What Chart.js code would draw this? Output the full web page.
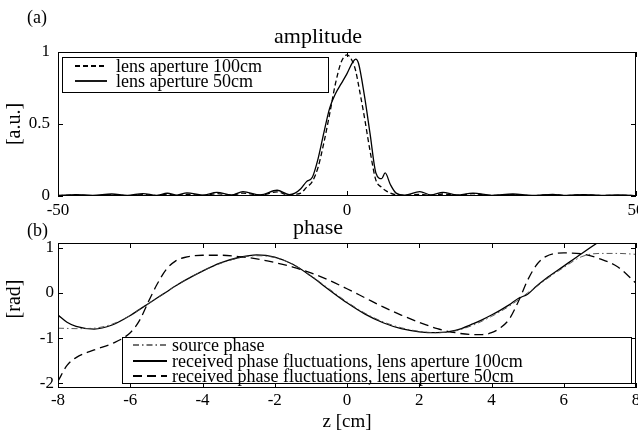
<!DOCTYPE html>
<html lang="en">
<head>
<meta charset="UTF-8" />
<title>Amplitude and phase</title>
<script src="https://cdn.jsdelivr.net/npm/chart.js"></script>
<style>
  html, body { margin: 0; padding: 0; background: #fff; }
  body { width: 638px; height: 434px; position: relative; overflow: hidden; }
  canvas { position: absolute; left: 0; }
  #ampChart { top: 0; }
  #phaseChart { top: 215px; }
</style>
</head>
<body>
<canvas id="ampChart" width="638" height="222"></canvas>
<canvas id="phaseChart" width="638" height="219"></canvas>
<script>
// (a) amplitude, z in cm
const ampZ = [-50, -47, -44, -40.7, -38, -35.3, -33, -31.1, -29.4, -27.7,
  -25, -22.5, -20, -18, -15, -12.1, -10, -9, -8, -7,
  -6, -5, -4, -3, -2, -1, 0, 1, 1.5, 2,
  3, 4, 5, 6, 6.6, 7.5, 8.5, 10, 12.6, 14.5,
  16.6, 19, 21.8, 25, 28.7, 32, 35.6, 38, 40.8, 44,
  47, 50];
const amp100 = [0.002, 0.006, 0.002, 0.008, 0.002, 0.01, 0.003, 0.013, 0.004, 0.012,
  0.004, 0.016, 0.005, 0.02, 0.006, 0.028, 0.006, 0.012, 0.02, 0.06,
  0.10, 0.20, 0.37, 0.57, 0.78, 0.93, 0.98, 0.93, 0.87, 0.77,
  0.55, 0.31, 0.11, 0.06, 0.04, 0.02, 0.008, 0.004, 0.012, 0.004,
  0.014, 0.004, 0.016, 0.004, 0.01, 0.003, 0.009, 0.003, 0.008, 0.003,
  0.005, 0.002];
const amp50 = [0.004, 0.01, 0.004, 0.014, 0.004, 0.017, 0.005, 0.019, 0.006, 0.022,
  0.006, 0.025, 0.007, 0.03, 0.008, 0.04, 0.01, 0.02, 0.05, 0.10,
  0.13, 0.26, 0.44, 0.61, 0.71, 0.78, 0.85, 0.93, 0.95, 0.92,
  0.70, 0.43, 0.16, 0.12, 0.16, 0.08, 0.02, 0.006, 0.03, 0.008,
  0.025, 0.007, 0.02, 0.005, 0.014, 0.004, 0.011, 0.004, 0.01, 0.004,
  0.007, 0.003];
const ampXTicks = [-50, 0, 50];
const ampYTicks = [0, 0.5, 1];

// (b) phase, rad
const phaseZ = [-8, -7.75, -7.5, -7, -6.5, -6, -5.75, -5.5, -5.25, -5,
  -4.75, -4.5, -4, -3.5, -3, -2.5, -2, -1.5, -1, -0.5,
  0, 0.5, 1, 1.5, 2, 2.5, 3, 3.5, 3.75, 4,
  4.25, 4.5, 4.75, 5, 5.25, 5.5, 6, 6.5, 7, 7.5, 8];
const phaseSource = [-0.78, -0.785, -0.79, -0.78, -0.69, -0.50, -0.37, -0.24, -0.11, 0.02,
  0.15, 0.27, 0.48, 0.65, 0.77, 0.82, 0.78, 0.63, 0.38, 0.09,
  -0.20, -0.45, -0.64, -0.77, -0.85, -0.88, -0.84, -0.71, -0.62, -0.52,
  -0.41, -0.29, -0.15, 0.0, 0.14, 0.29, 0.56, 0.80, 0.87, 0.87, 0.85];
const phase100 = [-0.49, -0.65, -0.74, -0.80, -0.71, -0.50, -0.37, -0.24, -0.11, 0.02,
  0.15, 0.27, 0.48, 0.66, 0.78, 0.84, 0.79, 0.63, 0.37, 0.07,
  -0.22, -0.47, -0.66, -0.79, -0.86, -0.88, -0.83, -0.68, -0.59, -0.49,
  -0.38, -0.26, -0.12, -0.03, 0.15, 0.31, 0.59, 0.87, 1.14, 1.4, 1.65];
const phase50 = [-1.95, -1.6, -1.43, -1.26, -1.12, -0.88, -0.62, -0.2, 0.2, 0.52,
  0.70, 0.78, 0.83, 0.83, 0.80, 0.75, 0.67, 0.57, 0.44, 0.28,
  0.09, -0.11, -0.31, -0.49, -0.65, -0.79, -0.88, -0.92, -0.92, -0.88,
  -0.77, -0.57, -0.18, 0.28, 0.62, 0.80, 0.88, 0.86, 0.75, 0.57, 0.21];
const phaseXTicks = [-8, -6, -4, -2, 0, 2, 4, 6, 8];
const phaseYTicks = [-2, -1, 0, 1];

const FONT = "'Liberation Serif', 'Times New Roman', serif";
Chart.defaults.font.family = FONT;
Chart.defaults.color = "#000";

const toPoints = (xs, ys) => xs.map((x, i) => ({ x, y: ys[i] }));

// box, inward ticks, legend and the side texts
const framePlugin = {
  id: "frame",
  afterDatasetsDraw(chart, args, opts) {
    const { ctx, chartArea: a, scales } = chart;
    ctx.save();
    ctx.strokeStyle = "#000";
    ctx.lineWidth = 1;
    ctx.setLineDash([]);
    ctx.strokeRect(a.left + 0.5, a.top + 0.5, a.width - 1, a.height - 1);
    ctx.beginPath();
    scales.x.ticks.forEach((t) => {
      const px = Math.round(scales.x.getPixelForValue(t.value)) + 0.5;
      ctx.moveTo(px, a.bottom);
      ctx.lineTo(px, a.bottom - 5);
      ctx.moveTo(px, a.top);
      ctx.lineTo(px, a.top + 5);
    });
    scales.y.ticks.forEach((t) => {
      const py = Math.round(scales.y.getPixelForValue(t.value)) + 0.5;
      ctx.moveTo(a.left, py);
      ctx.lineTo(a.left + 5, py);
      ctx.moveTo(a.right, py);
      ctx.lineTo(a.right - 5, py);
    });
    ctx.stroke();

    // legend
    const [bx, by, bw, bh] = opts.box;
    ctx.fillStyle = "#fff";
    ctx.fillRect(bx, by, bw, bh);
    ctx.strokeRect(bx + 0.5, by + 0.5, bw, bh);
    ctx.font = opts.legendSize + "px " + FONT;
    ctx.textBaseline = "middle";
    ctx.textAlign = "left";
    opts.order.forEach((di, row) => {
      const ds = chart.data.datasets[di];
      const y = opts.rowY[row];
      ctx.beginPath();
      ctx.strokeStyle = ds.borderColor;
      ctx.lineWidth = ds.borderWidth + 0.5;
      ctx.setLineDash(ds.borderDash || []);
      ctx.moveTo(opts.lineX[0], y);
      ctx.lineTo(opts.lineX[1], y);
      ctx.stroke();
      ctx.fillStyle = "#000";
      ctx.fillText(ds.label, opts.textX, y + 1);
    });

    // panel letter and y label
    ctx.setLineDash([]);
    ctx.font = "18px " + FONT;
    ctx.fillText(opts.letter, opts.letterPos[0], opts.letterPos[1]);
    ctx.translate(opts.yLabelPos[0], opts.yLabelPos[1]);
    ctx.rotate(-Math.PI / 2);
    ctx.textAlign = "center";
    ctx.font = "20px " + FONT;
    ctx.fillText(opts.yLabel, 0, 0);
    ctx.restore();
  },
};

const lineDefaults = {
  pointRadius: 0,
  fill: false,
  borderColor: "#000",
  cubicInterpolationMode: "monotone",
};

const axisBase = (ticks, padding) => ({
  type: "linear",
  grid: { display: false, drawTicks: false },
  border: { display: false },
  ticks: {
    font: { size: 17 },
    padding,
    autoSkip: false,
    maxRotation: 0,
    callback: (v) => String(v),
  },
  afterBuildTicks: (s) => {
    s.ticks = ticks.map((v) => ({ value: v }));
  },
});

new Chart(document.getElementById("ampChart"), {
  type: "line",
  data: {
    datasets: [
      { ...lineDefaults, label: "lens aperture 100cm", data: toPoints(ampZ, amp100), borderWidth: 1.3, borderDash: [5, 3] },
      { ...lineDefaults, label: "lens aperture 50cm", data: toPoints(ampZ, amp50), borderWidth: 1.3 },
    ],
  },
  options: {
    responsive: false,
    animation: false,
    layout: { padding: { top: 26, right: 2, left: 0, bottom: 0 } },
    plugins: {
      legend: { display: false },
      tooltip: { enabled: false },
      title: {
        display: true,
        text: "amplitude",
        font: { size: 22, weight: "normal", lineHeight: 1 },
        padding: { top: 0, bottom: 4 },
      },
      frame: {
        box: [62, 57, 266, 35],
        rowY: [66, 81],
        lineX: [75, 107],
        textX: 116,
        legendSize: 18,
        order: [0, 1],
        letter: "(a)",
        letterPos: [27, 18],
        yLabel: "[a.u.]",
        yLabelPos: [15, 124],
      },
    },
    scales: {
      x: {
        ...axisBase(ampXTicks, 4),
        min: -50,
        max: 50,
        afterFit: (s) => { s.height = 26; s.paddingLeft = 0; s.paddingRight = 0; },
      },
      y: {
        ...axisBase(ampYTicks, 8),
        min: 0,
        max: 1,
        afterFit: (s) => { s.width = 58; s.paddingTop = 0; s.paddingBottom = 0; },
      },
    },
  },
  plugins: [framePlugin],
});

new Chart(document.getElementById("phaseChart"), {
  type: "line",
  data: {
    datasets: [
      { ...lineDefaults, label: "source phase", data: toPoints(phaseZ, phaseSource), borderWidth: 0.9, borderColor: "#444", borderDash: [6, 3, 1.5, 3] },
      { ...lineDefaults, label: "received phase fluctuations, lens aperture 100cm", data: toPoints(phaseZ, phase100), borderWidth: 1.3 },
      { ...lineDefaults, label: "received phase fluctuations, lens aperture 50cm", data: toPoints(phaseZ, phase50), borderWidth: 1.3, borderDash: [9, 5] },
    ],
  },
  options: {
    responsive: false,
    animation: false,
    layout: { padding: { top: 2, right: 2, left: 0, bottom: 0 } },
    plugins: {
      legend: { display: false },
      tooltip: { enabled: false },
      title: {
        display: true,
        text: "phase",
        font: { size: 22, weight: "normal", lineHeight: 1 },
        padding: { top: 0, bottom: 4 },
      },
      frame: {
        box: [122, 122, 509, 46],
        rowY: [130, 146, 161],
        lineX: [133, 167],
        textX: 172,
        legendSize: 18,
        order: [0, 1, 2],
        letter: "(b)",
        letterPos: [27, 16],
        yLabel: "[rad]",
        yLabelPos: [15, 84],
      },
    },
    scales: {
      x: {
        ...axisBase(phaseXTicks, 2),
        min: -8,
        max: 8,
        title: {
          display: true,
          text: "z [cm]",
          font: { size: 19 },
          padding: { top: 0, bottom: 1 },
        },
        afterFit: (s) => { s.height = 46; s.paddingLeft = 0; s.paddingRight = 0; },
      },
      y: {
        ...axisBase(phaseYTicks, 4),
        min: -2.1,
        max: 1.1,
        afterFit: (s) => { s.width = 58; s.paddingTop = 0; s.paddingBottom = 0; },
      },
    },
  },
  plugins: [framePlugin],
});
</script>
</body>
</html>
